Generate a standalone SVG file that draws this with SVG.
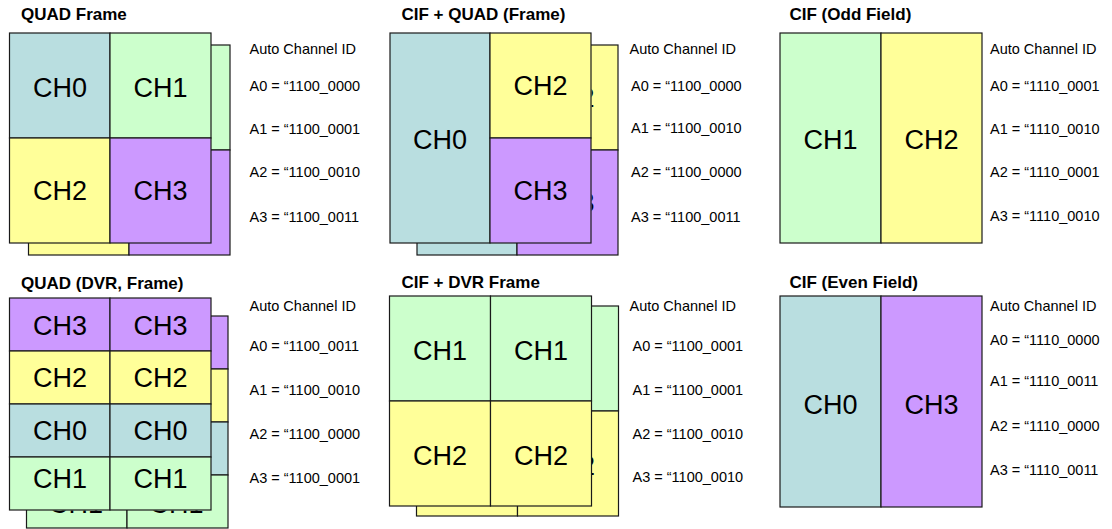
<svg xmlns="http://www.w3.org/2000/svg" width="1112" height="529" viewBox="0 0 1112 529">
<style>
  .bg{fill:#ffffff}
  .c{stroke:#1a1a1a;stroke-width:1.2}
  .teal{fill:#B9DEE0}
  .green{fill:#CCFFCC}
  .yellow{fill:#FFFF99}
  .purple{fill:#CC99FF}
  .ch{font-family:"Liberation Sans",Arial,sans-serif;font-size:27px;fill:#000;text-anchor:middle}
  .title{font-family:"Liberation Sans",Arial,sans-serif;font-size:17px;font-weight:bold;fill:#000}
  .lbl{font-family:"Liberation Sans",Arial,sans-serif;font-size:14.5px;fill:#000}
</style>
<defs>
  <clipPath id="clipP2"><rect x="591.6" y="45" width="27" height="210"/></clipPath>
  <clipPath id="clipP4"><rect x="26.5" y="510.6" width="202" height="18"/></clipPath>
  <clipPath id="clipP5"><rect x="592.1" y="306" width="27" height="210"/></clipPath>
</defs>
<rect class="bg" x="0" y="0" width="1112" height="529"/>

<g id="quad-frame">
  <text class="title" x="21" y="20">QUAD Frame</text>
  <g id="quad-frame-back">
    <rect class="c teal" x="28.5" y="45" width="100.5" height="105"/>
    <rect class="c green" x="129" y="45" width="101" height="105"/>
    <rect class="c yellow" x="28.5" y="150" width="100.5" height="105"/>
    <rect class="c purple" x="129" y="150" width="101" height="105"/>
  </g>
  <g id="quad-frame-front">
    <rect class="c teal" x="9.5" y="33" width="100.5" height="105"/>
    <rect class="c green" x="110" y="33" width="101" height="105"/>
    <rect class="c yellow" x="9.5" y="138" width="100.5" height="105"/>
    <rect class="c purple" x="110" y="138" width="101" height="105"/>
    <text class="ch" x="60" y="97">CH0</text>
    <text class="ch" x="160.5" y="97">CH1</text>
    <text class="ch" x="60" y="200">CH2</text>
    <text class="ch" x="160.5" y="200">CH3</text>
  </g>
  <g id="quad-frame-ids">
    <text class="lbl" x="249.5" y="54">Auto Channel ID</text>
    <text class="lbl" x="249.5" y="91">A0 = “1100_0000</text>
    <text class="lbl" x="249.5" y="133.5">A1 = “1100_0001</text>
    <text class="lbl" x="249.5" y="177">A2 = “1100_0010</text>
    <text class="lbl" x="249.5" y="221.5">A3 = “1100_0011</text>
  </g>
</g>

<g id="cif-quad-frame">
  <text class="title" x="401.5" y="20">CIF + QUAD (Frame)</text>
  <g id="cif-quad-frame-back">
    <rect class="c teal" x="417" y="45" width="100" height="210"/>
    <rect class="c yellow" x="517" y="45" width="101" height="105"/>
    <rect class="c purple" x="517" y="150" width="101" height="105"/>
    <g clip-path="url(#clipP2)">
      <text class="ch" x="567.5" y="107">CH2</text>
      <text class="ch" x="567.5" y="211.5">CH3</text>
    </g>
  </g>
  <g id="cif-quad-frame-front">
    <rect class="c teal" x="390" y="33" width="100" height="210"/>
    <rect class="c yellow" x="490" y="33" width="101" height="105"/>
    <rect class="c purple" x="490" y="138" width="101" height="105"/>
    <text class="ch" x="440" y="148.5">CH0</text>
    <text class="ch" x="540.5" y="95">CH2</text>
    <text class="ch" x="540.5" y="199.5">CH3</text>
  </g>
  <g id="cif-quad-frame-ids">
    <text class="lbl" x="629.5" y="54">Auto Channel ID</text>
    <text class="lbl" x="631" y="91">A0 = “1100_0000</text>
    <text class="lbl" x="631" y="133">A1 = “1100_0010</text>
    <text class="lbl" x="631" y="177">A2 = “1100_0000</text>
    <text class="lbl" x="631" y="221.5">A3 = “1100_0011</text>
  </g>
</g>

<g id="cif-odd-field">
  <text class="title" x="789.5" y="20">CIF (Odd Field)</text>
  <rect class="c green" x="780" y="33" width="101" height="210"/>
  <rect class="c yellow" x="881" y="33" width="101" height="210"/>
  <text class="ch" x="830.5" y="148.5">CH1</text>
  <text class="ch" x="931.5" y="148.5">CH2</text>
  <text class="lbl" x="990" y="54">Auto Channel ID</text>
  <text class="lbl" x="990" y="91">A0 = “1110_0001</text>
  <text class="lbl" x="990" y="133.5">A1 = “1110_0010</text>
  <text class="lbl" x="990" y="177">A2 = “1110_0001</text>
  <text class="lbl" x="990" y="221">A3 = “1110_0010</text>
</g>

<g id="quad-dvr-frame">
  <text class="title" x="21" y="288.5">QUAD (DVR, Frame)</text>
  <g id="quad-dvr-frame-back">
    <rect class="c purple" x="26.5" y="316" width="100.5" height="53"/>
    <rect class="c purple" x="127" y="316" width="101" height="53"/>
    <rect class="c yellow" x="26.5" y="369" width="100.5" height="53"/>
    <rect class="c yellow" x="127" y="369" width="101" height="53"/>
    <rect class="c teal" x="26.5" y="422" width="100.5" height="53"/>
    <rect class="c teal" x="127" y="422" width="101" height="53"/>
    <rect class="c green" x="26.5" y="475" width="100.5" height="53"/>
    <rect class="c green" x="127" y="475" width="101" height="53"/>
    <g clip-path="url(#clipP4)">
      <text class="ch" x="76" y="512.5">CH1</text>
      <text class="ch" x="176.5" y="512.5">CH1</text>
    </g>
  </g>
  <g id="quad-dvr-frame-front">
    <rect class="c purple" x="9.5" y="298" width="100.5" height="53"/>
    <rect class="c purple" x="110" y="298" width="101" height="53"/>
    <rect class="c yellow" x="9.5" y="351" width="100.5" height="53"/>
    <rect class="c yellow" x="110" y="351" width="101" height="53"/>
    <rect class="c teal" x="9.5" y="404" width="100.5" height="53"/>
    <rect class="c teal" x="110" y="404" width="101" height="53"/>
    <rect class="c green" x="9.5" y="457" width="100.5" height="53"/>
    <rect class="c green" x="110" y="457" width="101" height="53"/>
    <text class="ch" x="60" y="335">CH3</text>
    <text class="ch" x="160.5" y="335">CH3</text>
    <text class="ch" x="60" y="387">CH2</text>
    <text class="ch" x="160.5" y="387">CH2</text>
    <text class="ch" x="60" y="440">CH0</text>
    <text class="ch" x="160.5" y="440">CH0</text>
    <text class="ch" x="60" y="488">CH1</text>
    <text class="ch" x="160.5" y="488">CH1</text>
  </g>
  <g id="quad-dvr-frame-ids">
    <text class="lbl" x="249.5" y="311">Auto Channel ID</text>
    <text class="lbl" x="249.5" y="351">A0 = “1100_0011</text>
    <text class="lbl" x="249.5" y="395">A1 = “1100_0010</text>
    <text class="lbl" x="249.5" y="438.5">A2 = “1100_0000</text>
    <text class="lbl" x="249.5" y="482.5">A3 = “1100_0001</text>
  </g>
</g>

<g id="cif-dvr-frame">
  <text class="title" x="401.5" y="288">CIF + DVR Frame</text>
  <g id="cif-dvr-frame-back">
    <rect class="c green" x="416.5" y="306" width="101" height="105"/>
    <rect class="c green" x="517.5" y="306" width="101" height="105"/>
    <rect class="c yellow" x="416.5" y="411" width="101" height="105"/>
    <rect class="c yellow" x="517.5" y="411" width="101" height="105"/>
    <g clip-path="url(#clipP5)">
      <text class="ch" x="568" y="474.5">CH2</text>
    </g>
  </g>
  <g id="cif-dvr-frame-front">
    <rect class="c green" x="389.5" y="296" width="101" height="105"/>
    <rect class="c green" x="490.5" y="296" width="101" height="105"/>
    <rect class="c yellow" x="389.5" y="401" width="101" height="105"/>
    <rect class="c yellow" x="490.5" y="401" width="101" height="105"/>
    <text class="ch" x="440" y="360">CH1</text>
    <text class="ch" x="541" y="360">CH1</text>
    <text class="ch" x="440" y="464.5">CH2</text>
    <text class="ch" x="541" y="464.5">CH2</text>
  </g>
  <g id="cif-dvr-frame-ids">
    <text class="lbl" x="629.5" y="311">Auto Channel ID</text>
    <text class="lbl" x="632.5" y="351">A0 = “1100_0001</text>
    <text class="lbl" x="632.5" y="394.5">A1 = “1100_0001</text>
    <text class="lbl" x="632.5" y="438.5">A2 = “1100_0010</text>
    <text class="lbl" x="632.5" y="482">A3 = “1100_0010</text>
  </g>
</g>

<g id="cif-even-field">
  <text class="title" x="789.5" y="288">CIF (Even Field)</text>
  <rect class="c teal" x="780" y="296" width="101" height="211"/>
  <rect class="c purple" x="881" y="296" width="101" height="211"/>
  <text class="ch" x="830.5" y="413.5">CH0</text>
  <text class="ch" x="931.5" y="413.5">CH3</text>
  <text class="lbl" x="990" y="311">Auto Channel ID</text>
  <text class="lbl" x="990" y="345">A0 = “1110_0000</text>
  <text class="lbl" x="990" y="385.5">A1 = “1110_0011</text>
  <text class="lbl" x="990" y="431">A2 = “1110_0000</text>
  <text class="lbl" x="990" y="475">A3 = “1110_0011</text>
</g>

<g id="connectors"/>
</svg>
